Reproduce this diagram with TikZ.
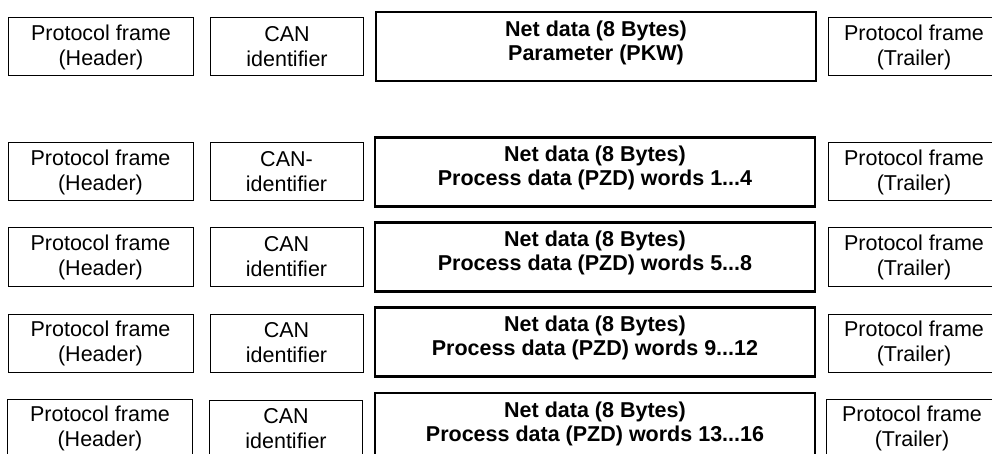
\documentclass[tikz,border=0pt]{standalone}
\usepackage{fontspec}
\setmainfont{Liberation Sans}
\begin{document}
\begin{tikzpicture}[x=1pt,y=-1pt,
  thinbox/.style={draw, line width=1pt, minimum height=58pt, inner sep=0pt, align=center, font=\fontsize{21.5}{25}\selectfont},
  hdr/.style={thinbox, minimum width=185pt},
  canbox/.style={thinbox, minimum width=153pt},
  trl/.style={thinbox, minimum width=172pt},
  netbox/.style={draw, line width=2.5pt, minimum width=440pt, minimum height=69pt, inner sep=0pt},
  nettext/.style={inner sep=0pt, align=center, font=\bfseries\fontsize{21.5}{24}\selectfont}]
\useasboundingbox (0,0) rectangle (992,454);
% row 1
\node[hdr] (h1) at (101,47) {Protocol frame\\(Header)};
\node[canbox] (c1) at (287,47) {CAN\\identifier};
\node[netbox] (n1) at (596,46.5) {};
\node[nettext] (n1t) at ([yshift=4pt]n1.center) {Net data (8 Bytes)\\Parameter (PKW)};
\node[trl] (t1) at (914,47) {Protocol frame\\(Trailer)};
% row 2
\node[hdr] (h2) at (100.5,172) {Protocol frame\\(Header)};
\node[canbox] (c2) at (286.5,172) {CAN-\\identifier};
\node[netbox] (n2) at (595,172) {};
\node[nettext] (n2t) at ([yshift=4pt]n2.center) {Net data (8 Bytes)\\Process data (PZD) words 1...4};
\node[trl] (t2) at (914,172) {Protocol frame\\(Trailer)};
% row 3
\node[hdr] (h3) at (100.5,257) {Protocol frame\\(Header)};
\node[canbox] (c3) at (286.5,257) {CAN\\identifier};
\node[netbox] (n3) at (595,257) {};
\node[nettext] (n3t) at ([yshift=4pt]n3.center) {Net data (8 Bytes)\\Process data (PZD) words 5...8};
\node[trl] (t3) at (914,257) {Protocol frame\\(Trailer)};
% row 4
\node[hdr] (h4) at (100.5,343) {Protocol frame\\(Header)};
\node[canbox] (c4) at (286.5,343) {CAN\\identifier};
\node[netbox] (n4) at (595,342) {};
\node[nettext] (n4t) at ([yshift=4pt]n4.center) {Net data (8 Bytes)\\Process data (PZD) words 9...12};
\node[trl] (t4) at (914,343) {Protocol frame\\(Trailer)};
% row 5
\node[hdr] (h5) at (100,428) {Protocol frame\\(Header)};
\node[canbox] (c5) at (286,429) {CAN\\identifier};
\node[netbox] (n5) at (595,427.5) {};
\node[nettext] (n5t) at ([yshift=4pt]n5.center) {Net data (8 Bytes)\\Process data (PZD) words 13...16};
\node[trl] (t5) at (912,428) {Protocol frame\\(Trailer)};
\end{tikzpicture}
\end{document}
